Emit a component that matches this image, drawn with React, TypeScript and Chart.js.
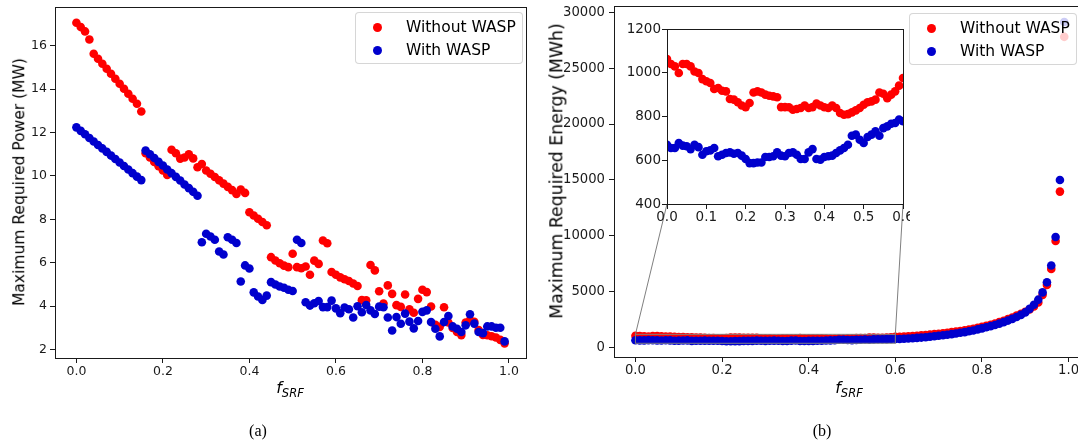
import React, { useEffect, useRef } from "react";
import { Chart, registerables } from "chart.js";

Chart.register(...registerables);

// ---------------- data ----------------
const fSRF = [
  0.0, 0.01, 0.02, 0.03, 0.04, 0.05, 0.06, 0.07, 0.08, 0.09,
  0.1, 0.11, 0.12, 0.13, 0.14, 0.15, 0.16, 0.17, 0.18, 0.19,
  0.2, 0.21, 0.22, 0.23, 0.24, 0.25, 0.26, 0.27, 0.28, 0.29,
  0.3, 0.31, 0.32, 0.33, 0.34, 0.35, 0.36, 0.37, 0.38, 0.39,
  0.4, 0.41, 0.42, 0.43, 0.44, 0.45, 0.46, 0.47, 0.48, 0.49,
  0.5, 0.51, 0.52, 0.53, 0.54, 0.55, 0.56, 0.57, 0.58, 0.59,
  0.6, 0.61, 0.62, 0.63, 0.64, 0.65, 0.66, 0.67, 0.68, 0.69,
  0.7, 0.71, 0.72, 0.73, 0.74, 0.75, 0.76, 0.77, 0.78, 0.79,
  0.8, 0.81, 0.82, 0.83, 0.84, 0.85, 0.86, 0.87, 0.88, 0.89,
  0.9, 0.91, 0.92, 0.93, 0.94, 0.95, 0.96, 0.97, 0.98, 0.99,
];

const powerWithoutWASP = [
  17.06, 16.86, 16.66, 16.29, 15.63, 15.4, 15.17, 14.94, 14.71, 14.48,
  14.25, 14.02, 13.79, 13.56, 13.33, 12.97, 11.05, 10.85, 10.65, 10.45,
  10.25, 10.05, 11.21, 11.05, 10.8, 10.85, 11.0, 10.81, 10.4, 10.55,
  10.25, 10.1, 9.95, 9.8, 9.65, 9.5, 9.35, 9.17, 9.38, 9.22,
  8.33, 8.18, 8.03, 7.88, 7.73, 6.26, 6.11, 5.98, 5.87, 5.8,
  6.42, 5.8, 5.75, 5.83, 5.45, 6.1, 5.95, 7.03, 6.9, 5.58,
  5.45, 5.33, 5.24, 5.16, 5.05, 4.93, 4.28, 4.27, 5.9, 5.65,
  4.69, 4.12, 4.96, 4.57, 4.05, 3.97, 4.54, 3.86, 3.7, 4.34,
  4.76, 4.65, 3.99, 3.15, 3.05, 3.95, 3.25, 3.0, 2.82, 2.67,
  3.25, 3.35, 3.28, 2.9, 2.68, 2.66, 2.62, 2.56, 2.45, 2.29,
];

const powerWithWASP = [
  12.24, 12.08, 11.92, 11.75, 11.59, 11.43, 11.27, 11.11, 10.94, 10.78,
  10.62, 10.46, 10.3, 10.13, 9.97, 9.81, 11.17, 11.0, 10.83, 10.65,
  10.48, 10.3, 10.13, 9.96, 9.79, 9.61, 9.44, 9.27, 9.09, 6.95,
  7.34, 7.21, 7.06, 6.52, 6.38, 7.18, 7.06, 6.91, 5.14, 5.88,
  5.74, 4.64, 4.45, 4.29, 4.49, 5.11, 5.0, 4.91, 4.85, 4.76,
  4.7, 7.06, 6.91, 4.18, 4.03, 4.14, 4.24, 3.96, 3.96, 4.26,
  3.9, 3.68, 3.94, 3.86, 3.48, 4.0, 3.72, 4.06, 3.81, 3.64,
  3.98, 3.95, 3.48, 2.88, 3.5, 3.19, 3.66, 3.29, 2.98, 3.32,
  3.74, 3.81, 3.27, 2.96, 2.61, 3.27, 3.55, 3.07, 2.96, 2.81,
  3.12, 3.63, 3.2, 2.81, 2.76, 3.07, 3.07, 3.01, 3.01, 2.38,
];

const energyWithoutWASP = [
  1063, 1040, 1029, 999, 1040, 1040, 1029, 1006, 999, 971,
  961, 953, 926, 930, 918, 915, 880, 877, 865, 850,
  843, 862, 910, 915, 910, 900, 895, 892, 888, 843,
  843, 842, 831, 834, 839, 850, 839, 843, 859, 850,
  842, 839, 850, 839, 816, 808, 811, 819, 828, 839,
  854, 865, 869, 877, 910, 904, 884, 900, 915, 941,
  976, 985, 1000, 1020, 1045, 1075, 1105, 1140, 1175, 1215,
  1255, 1300, 1345, 1395, 1450, 1505, 1565, 1630, 1700, 1780,
  1870, 1960, 2060, 2170, 2290, 2420, 2560, 2710, 2870, 3040,
  3220, 3420, 3700, 4050, 4730, 5620, 7050, 9550, 13960, 27800,
];

const energyWithWASP = [
  671, 656, 656, 679, 667, 664, 651, 671, 660, 625,
  641, 645, 656, 618, 625, 633, 636, 630, 633, 621,
  606, 587, 587, 590, 590, 615, 615, 618, 636, 621,
  618, 633, 636, 625, 606, 606, 636, 651, 606, 603,
  615, 618, 621, 633, 645, 656, 671, 712, 717, 694,
  679, 706, 717, 732, 712, 747, 755, 767, 770, 786,
  778, 790, 805, 825, 850, 880, 910, 945, 985, 1030,
  1075, 1120, 1170, 1220, 1280, 1340, 1400, 1470, 1550, 1640,
  1730, 1830, 1930, 2040, 2160, 2290, 2430, 2580, 2750, 2940,
  3160, 3480, 3850, 4300, 4950, 5850, 7350, 9900, 15000, 29130,
];

const seriesLabels = ["Without WASP", "With WASP"];
const xTickValues = [0, 0.2, 0.4, 0.6, 0.8, 1.0];
const powerTickValues = [2, 4, 6, 8, 10, 12, 14, 16];
const energyTickValues = [0, 5000, 10000, 15000, 20000, 25000, 30000];
const insetXTickValues = [0, 0.1, 0.2, 0.3, 0.4, 0.5, 0.6];
const insetYTickValues = [400, 600, 800, 1000, 1200];
const insetXRange = [0, 0.6];
const insetYRange = [400, 1200];

// ---------------- style ----------------
const RED = "#ff0000";
const BLUE = "#0000cd";
const COLORS = [RED, BLUE];
const AXIS = "#1a1a1a";
const FONT = "'DejaVu Sans', sans-serif";

const LEFT = { left: 0, top: 0, width: 540, height: 444 };
const RIGHT = { left: 540, top: 0, width: 550, height: 444 };
const INSET = { left: 620, top: 20, width: 290, height: 214 };

function makeAxis(o: any) {
  return {
    type: "linear",
    min: o.min,
    max: o.max,
    afterBuildTicks: (ax: any) => {
      ax.ticks = o.ticks.map((v: number) => ({ value: v }));
    },
    afterFit: (s: any) => {
      if (o.horizontal) s.height = o.size;
      else s.width = o.size;
      s.paddingTop = 0;
      s.paddingBottom = 0;
      s.paddingLeft = 0;
      s.paddingRight = 0;
    },
    grid: {
      display: true,
      drawOnChartArea: false,
      drawTicks: true,
      tickLength: o.tickLength ?? 5,
      tickWidth: 1,
      tickColor: AXIS,
      color: AXIS,
    },
    border: { display: true, color: AXIS, width: 1 },
    ticks: {
      color: AXIS,
      font: { family: FONT, size: o.fontSize },
      padding: o.padding,
      autoSkip: false,
      maxRotation: 0,
      minRotation: 0,
      callback: (v: any) => o.fmt(Number(v)),
    },
  };
}

function datasets(a: number[], b: number[], radius: number, clip?: number) {
  const mk = (vals: number[], i: number) => ({
    label: seriesLabels[i],
    data: fSRF.map((x, k) => ({ x, y: vals[k] })),
    backgroundColor: COLORS[i],
    borderWidth: 0,
    pointRadius: radius,
    pointHoverRadius: radius,
    pointBorderWidth: 0,
    order: i === 0 ? 2 : 1,
    ...(clip !== undefined ? { clip } : {}),
  });
  return [mk(a, 0), mk(b, 1)];
}

const framePlugin = {
  id: "frame",
  beforeDraw(chart: any) {
    const { ctx, chartArea: a } = chart;
    ctx.save();
    ctx.fillStyle = "#ffffff";
    ctx.fillRect(a.left, a.top, a.right - a.left, a.bottom - a.top);
    ctx.restore();
  },
  afterDraw(chart: any) {
    const { ctx, chartArea: a } = chart;
    const l = Math.round(a.left) + 0.5;
    const t = Math.round(a.top) + 0.5;
    const r = Math.round(a.right) + 0.5;
    const b = Math.round(a.bottom) + 0.5;
    ctx.save();
    ctx.strokeStyle = AXIS;
    ctx.lineWidth = 1;
    ctx.strokeRect(l, t, r - l, b - t);
    ctx.restore();
  },
};

function baseOptions(padding: any, xAxis: any, yAxis: any) {
  return {
    animation: false,
    responsive: false,
    maintainAspectRatio: false,
    events: [],
    layout: { padding },
    plugins: { legend: { display: false }, tooltip: { enabled: false } },
    scales: { x: xAxis, y: yAxis },
  };
}

function Legend({ left, top }: { left: number; top: number }) {
  return (
    <div
      style={{
        position: "absolute",
        left,
        top,
        width: 168,
        height: 52,
        boxSizing: "border-box",
        background: "rgba(255,255,255,0.8)",
        border: "1px solid rgba(204,204,204,0.8)",
        borderRadius: 4,
        fontFamily: FONT,
        fontSize: 15.5,
        color: "#000",
      }}
    >
      {seriesLabels.map((lab, i) => (
        <div
          key={lab}
          style={{
            position: "absolute",
            left: 0,
            top: 4 + 23 * i,
            height: 20,
            display: "flex",
            alignItems: "center",
          }}
        >
          <span
            style={{
              display: "inline-block",
              width: 9,
              height: 9,
              borderRadius: "50%",
              background: COLORS[i],
              marginLeft: 16.5,
            }}
          />
          <span style={{ marginLeft: 24.5, whiteSpace: "nowrap", lineHeight: "20px" }}>{lab}</span>
        </div>
      ))}
    </div>
  );
}

function XTitle({ cx }: { cx: number }) {
  return (
    <div
      style={{
        position: "absolute",
        left: cx,
        top: 380,
        transform: "translateX(-50%)",
        fontFamily: FONT,
        fontSize: 16,
        fontStyle: "italic",
        lineHeight: 1,
        whiteSpace: "nowrap",
        color: "#000",
      }}
    >
      f<span style={{ fontSize: 11.5, position: "relative", top: 4 }}>SRF</span>
    </div>
  );
}

function YTitle({ cx, cy, size, text }: { cx: number; cy: number; size: number; text: string }) {
  return (
    <div
      style={{
        position: "absolute",
        left: cx,
        top: cy,
        transform: "translate(-50%, -50%) rotate(-90deg)",
        fontFamily: FONT,
        fontSize: size,
        lineHeight: 1,
        whiteSpace: "nowrap",
        color: "#000",
      }}
    >
      {text}
    </div>
  );
}

export default function App() {
  const leftRef = useRef<HTMLCanvasElement>(null);
  const rightRef = useRef<HTMLCanvasElement>(null);
  const insetRef = useRef<HTMLCanvasElement>(null);

  useEffect(() => {
    const charts: Chart[] = [];

    // left chart: power
    charts.push(
      new Chart(leftRef.current as HTMLCanvasElement, {
        type: "scatter",
        data: { datasets: datasets(powerWithoutWASP, powerWithWASP, 4.3) as any },
        options: baseOptions(
          { left: 0, top: 7, right: 14, bottom: 56 },
          makeAxis({ min: -0.0495, max: 1.0395, ticks: xTickValues, fmt: (v: number) => v.toFixed(1), horizontal: true, size: 30, fontSize: 12.5, padding: 1.5 }),
          makeAxis({ min: 1.615, max: 17.785, ticks: powerTickValues, fmt: (v: number) => String(v), horizontal: false, size: 55, fontSize: 12.5, padding: 3 })
        ) as any,
        plugins: [framePlugin],
      })
    );

    // inset chart
    const inset = new Chart(insetRef.current as HTMLCanvasElement, {
      type: "scatter",
      data: { datasets: datasets(energyWithoutWASP, energyWithWASP, 4.3, 0) as any },
      options: baseOptions(
        { left: 0, top: 9, right: 7, bottom: 5 },
        makeAxis({ min: insetXRange[0], max: insetXRange[1], ticks: insetXTickValues, fmt: (v: number) => v.toFixed(1), horizontal: true, size: 25, fontSize: 13.5, padding: 0, tickLength: 5 }),
        makeAxis({ min: insetYRange[0], max: insetYRange[1], ticks: insetYTickValues, fmt: (v: number) => String(v), horizontal: false, size: 47, fontSize: 13.5, padding: 1, tickLength: 5 })
      ) as any,
      plugins: [framePlugin],
    });
    charts.push(inset);
    const ia = inset.chartArea;
    const insetArea = {
      left: ia.left + INSET.left - RIGHT.left,
      right: ia.right + INSET.left - RIGHT.left,
      bottom: ia.bottom + INSET.top - RIGHT.top,
    };

    const markPlugin = {
      id: "markInset",
      afterDatasetsDraw(chart: any) {
        const { ctx } = chart;
        const xs = chart.scales.x;
        const ys = chart.scales.y;
        const x0 = xs.getPixelForValue(insetXRange[0]);
        const x1 = xs.getPixelForValue(insetXRange[1]);
        const yTop = ys.getPixelForValue(insetYRange[1]);
        const yBot = ys.getPixelForValue(insetYRange[0]);
        ctx.save();
        ctx.strokeStyle = "#808080";
        ctx.lineWidth = 1;
        ctx.strokeRect(x0, yTop, x1 - x0, yBot - yTop);
        ctx.beginPath();
        ctx.moveTo(insetArea.left, insetArea.bottom);
        ctx.lineTo(x0, yTop);
        ctx.moveTo(insetArea.right, insetArea.bottom);
        ctx.lineTo(x1, yTop);
        ctx.stroke();
        ctx.restore();
      },
    };

    // right chart: energy (its right spine lies just beyond the picture's edge)
    charts.push(
      new Chart(rightRef.current as HTMLCanvasElement, {
        type: "scatter",
        data: { datasets: datasets(energyWithoutWASP, energyWithWASP, 4.3) as any },
        options: baseOptions(
          { left: 0, top: 6, right: 4, bottom: 57 },
          makeAxis({ min: -0.0495, max: 1.0395, ticks: xTickValues, fmt: (v: number) => v.toFixed(1), horizontal: true, size: 30, fontSize: 13.2, padding: 1 }),
          makeAxis({ min: -826, max: 30556, ticks: energyTickValues, fmt: (v: number) => String(v), horizontal: false, size: 74, fontSize: 13.2, padding: 4 })
        ) as any,
        plugins: [framePlugin, markPlugin],
      })
    );

    return () => charts.forEach((c) => c.destroy());
  }, []);

  const abs = (p: any) => ({ position: "absolute" as const, left: p.left, top: p.top });

  return (
    <div
      style={{
        position: "absolute",
        left: 0,
        top: 0,
        width: 1078,
        height: 444,
        background: "#ffffff",
        overflow: "hidden",
      }}
    >
      <canvas ref={leftRef} width={LEFT.width} height={LEFT.height} style={abs(LEFT)} />
      <canvas ref={rightRef} width={RIGHT.width} height={RIGHT.height} style={abs(RIGHT)} />
      <canvas ref={insetRef} width={INSET.width} height={INSET.height} style={abs(INSET)} />
      <YTitle cx={20} cy={182} size={15.5} text="Maximum Required Power (MW)" />
      <YTitle cx={557} cy={171} size={17.3} text="Maximum Required Energy (MWh)" />
      <XTitle cx={290} />
      <XTitle cx={849} />
      <Legend left={355} top={12} />
      <Legend left={909} top={13} />
      <div style={{ position: "absolute", left: 258, top: 431, transform: "translate(-50%, -50%)", fontFamily: "'Liberation Serif', serif", fontSize: 16, color: "#000", whiteSpace: "nowrap" }}>(a)</div>
      <div style={{ position: "absolute", left: 822, top: 431, transform: "translate(-50%, -50%)", fontFamily: "'Liberation Serif', serif", fontSize: 16, color: "#000", whiteSpace: "nowrap" }}>(b)</div>
    </div>
  );
}
